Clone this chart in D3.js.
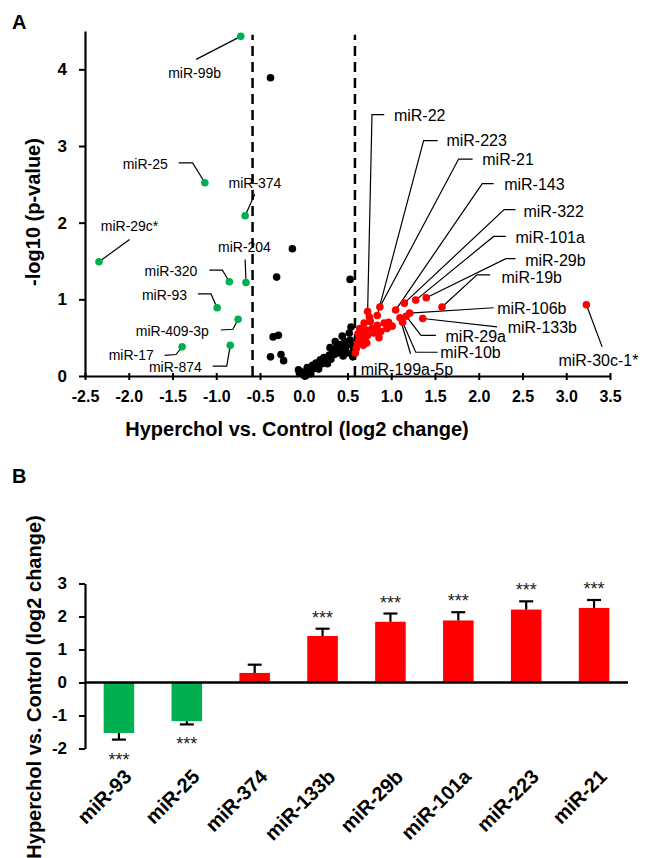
<!DOCTYPE html>
<html lang="en">
<head>
<meta charset="UTF-8">
<title>miRNA volcano and bar chart</title>
<script src="https://d3js.org/d3.v7.min.js"></script>
<style>
  body { margin: 0; background: #fff; }
  svg { font-family: "Liberation Sans", Arial, sans-serif; }
  .axis text { font-weight: bold; fill: #000; }
  .axis path, .axis line { stroke: #000; }
</style>
</head>
<body>
<script>
// ---------- panel A: volcano (log2 change vs -log10 p) ----------
const downNames = ["miR-99b", "miR-25", "miR-374", "miR-29c*", "miR-320", "miR-204", "miR-93", "miR-409-3p", "miR-17", "miR-874"];
const downX = [-0.72, -1.13, -0.67, -2.34, -0.85, -0.66, -0.99, -0.75, -1.39, -0.84];
const downY = [4.43, 2.52, 2.09, 1.49, 1.23, 1.22, 0.89, 0.74, 0.38, 0.40];

const upNames = ["miR-22", "miR-223", "miR-21", "miR-143", "miR-322", "miR-101a", "miR-29b", "miR-19b",
                 "miR-106b", "miR-133b", "miR-29a", "miR-10b", "miR-199a-5p", "miR-30c-1*"];
const upX = [0.73, 0.84, 0.87, 1.05, 1.15, 1.28, 1.40, 1.58, 1.21, 1.36, 1.17, 1.13, 1.10, 3.23];
const upY = [0.84, 0.79, 0.90, 0.86, 0.95, 0.99, 1.02, 0.90, 0.82, 0.75, 0.78, 0.70, 0.76, 0.93];

// unlabelled up-regulated
const upOtherX = [0.69, 0.76, 0.84, 0.92, 0.95, 0.88, 0.80, 0.73, 0.67, 0.63, 0.61, 0.71, 0.65, 0.78, 0.75, 1.01, 0.60, 0.62, 0.68, 0.70, 0.86, 0.97, 0.64, 0.59, 0.66, 0.72, 0.82];
const upOtherY = [0.69, 0.71, 0.66, 0.69, 0.62, 0.58, 0.56, 0.53, 0.51, 0.47, 0.42, 0.60, 0.58, 0.62, 0.77, 0.65, 0.36, 0.55, 0.40, 0.48, 0.50, 0.70, 0.62, 0.30, 0.45, 0.43, 0.60];

// not changed
const nsX = [-0.38, -0.13, -0.31, -0.35, -0.29, -0.38, -0.26, -0.23, 0.53,
  -0.06, -0.05, 0.00, -0.01, 0.02, 0.04, 0.07, 0.10, 0.12, 0.14, 0.16, 0.19, 0.21, 0.23, 0.26, 0.29, 0.31,
  0.33, 0.35, 0.37, 0.39, 0.41, 0.43, 0.45, 0.47, 0.48, 0.50, 0.52, 0.53, 0.54, 0.55, 0.56, 0.57,
  0.08, 0.17, 0.27, 0.44, 0.36, 0.30];
const nsY = [3.89, 1.66, 1.29, 0.51, 0.53, 0.25, 0.28, 0.20, 1.26,
  0.08, 0.04, 0.01, 0.05, 0.00, 0.11, 0.06, 0.14, 0.10, 0.17, 0.12, 0.21, 0.16, 0.24, 0.20, 0.27, 0.22,
  0.32, 0.28, 0.36, 0.30, 0.41, 0.34, 0.26, 0.45, 0.38, 0.30, 0.56, 0.47, 0.64, 0.40, 0.25, 0.33,
  0.03, 0.09, 0.16, 0.52, 0.45, 0.37];

const cutoff = 0.585; // log2(1.5)
const xTicksA = d3.range(-2.5, 3.51, 0.5);
const yTicksA = [0, 1, 2, 3, 4];

// label placement in data units: name, text start x, text middle y, leader bends
const labelLayout = [
  ["miR-99b", -1.55, 3.95, [[-1.23, 4.13]]],
  ["miR-25", -2.07, 2.77, [[-1.43, 2.78], [-1.27, 2.78]]],
  ["miR-374", -0.86, 2.52, [[-0.56, 2.37]]],
  ["miR-29c*", -2.32, 1.95, [[-1.99, 1.78]]],
  ["miR-204", -0.98, 1.68, [[-0.67, 1.52]]],
  ["miR-320", -1.82, 1.37, [[-1.08, 1.38], [-0.93, 1.38]]],
  ["miR-93", -1.85, 1.06, [[-1.21, 1.07], [-1.06, 1.07]]],
  ["miR-409-3p", -1.92, 0.59, [[-0.95, 0.60], [-0.81, 0.61]]],
  ["miR-17", -2.23, 0.27, [[-1.59, 0.27], [-1.46, 0.28]]],
  ["miR-874", -1.77, 0.12, [[-1.04, 0.13], [-0.88, 0.13]]],
  ["miR-22", 1.03, 3.40, [[0.92, 3.41], [0.78, 3.41]]],
  ["miR-223", 1.63, 3.07, [[1.53, 3.07], [1.37, 3.07]]],
  ["miR-21", 2.04, 2.82, [[1.93, 2.83], [1.77, 2.83]]],
  ["miR-143", 2.29, 2.50, [[2.17, 2.51], [2.04, 2.51]]],
  ["miR-322", 2.51, 2.15, [[2.42, 2.17], [2.29, 2.17]]],
  ["miR-101a", 2.42, 1.81, [[2.31, 1.82], [2.17, 1.82]]],
  ["miR-29b", 2.53, 1.51, [[2.42, 1.53], [2.31, 1.53]]],
  ["miR-19b", 2.26, 1.29, [[2.13, 1.32], [1.98, 1.32]]],
  ["miR-106b", 2.21, 0.88, [[2.17, 0.89]]],
  ["miR-133b", 2.33, 0.63, [[2.21, 0.64]]],
  ["miR-29a", 1.62, 0.52, [[1.51, 0.53], [1.34, 0.53]]],
  ["miR-10b", 1.56, 0.31, [[1.53, 0.31], [1.28, 0.31]]],
  ["miR-199a-5p", 0.65, 0.09, [[1.22, 0.29]]],
  ["miR-30c-1*", 2.91, 0.21, [[3.41, 0.38]]]
];

// ---------- panel B: qPCR bars ----------
const barNames = ["miR-93", "miR-25", "miR-374", "miR-133b", "miR-29b", "miR-101a", "miR-223", "miR-21"];
const barValues = [-1.53, -1.17, 0.29, 1.41, 1.84, 1.88, 2.21, 2.26];
const barErrors = [0.20, 0.10, 0.25, 0.22, 0.25, 0.25, 0.25, 0.24];
const barSig = ["***", "***", "", "***", "***", "***", "***", "***"];
const yTicksB = [-2, -1, 0, 1, 2, 3];

const GREEN = "#00b050", RED = "#ff0000";

const svg = d3.select("body").append("svg")
    .attr("width", 646)
    .attr("height", 858);

// ================= panel A =================
const xA = d3.scaleLinear().domain([-2.5, 3.5]).range([85, 610]);
const yA = d3.scaleLinear().domain([0, 4.5]).range([376, 31]);

svg.append("text").attr("x", 12).attr("y", 29)
    .attr("font-size", 20).attr("font-weight", "bold").text("A");

// dashed fold-change cut-offs
svg.selectAll("line.cut").data([-cutoff, cutoff]).enter().append("line")
    .attr("class", "cut")
    .attr("x1", d => xA(d)).attr("x2", d => xA(d))
    .attr("y1", yA(0)).attr("y2", yA(4.45))
    .attr("stroke", "#000").attr("stroke-width", 2.5)
    .attr("stroke-dasharray", "10,6");

const gxA = svg.append("g").attr("class", "axis")
    .attr("transform", `translate(0,${yA(0)})`)
    .call(d3.axisBottom(xA).tickValues(xTicksA).tickFormat(d => d.toFixed(1))
        .tickSize(4).tickSizeOuter(0).tickPadding(11));
gxA.select(".domain").attr("stroke-width", 2.2);
gxA.selectAll(".tick line").attr("y1", -3).attr("stroke-width", 2);
gxA.selectAll(".tick text").attr("font-size", 16);

const gyA = svg.append("g").attr("class", "axis")
    .attr("transform", `translate(${xA(-2.5)},0)`)
    .call(d3.axisLeft(yA).tickValues(yTicksA).tickFormat(d => String(d))
        .tickSize(6).tickSizeOuter(0).tickPadding(12));
gyA.select(".domain").attr("stroke-width", 2.2);
gyA.selectAll(".tick line").attr("stroke-width", 2);
gyA.selectAll(".tick text").attr("font-size", 17);

svg.append("text")
    .attr("x", 297).attr("y", 436)
    .attr("text-anchor", "middle").attr("font-size", 20).attr("font-weight", "bold")
    .text("Hyperchol vs. Control (log2 change)");

svg.append("text")
    .attr("transform", "translate(33,212) rotate(-90)")
    .attr("dy", "0.35em")
    .attr("text-anchor", "middle").attr("font-size", 20).attr("font-weight", "bold")
    .text("-log10 (p-value)");

// leaders + labels
const pointOf = {};
downNames.forEach((n, i) => pointOf[n] = [downX[i], downY[i]]);
upNames.forEach((n, i) => pointOf[n] = [upX[i], upY[i]]);

const leader = d3.line().x(d => xA(d[0])).y(d => yA(d[1]));
svg.append("g").selectAll("path").data(labelLayout).enter().append("path")
    .attr("d", d => leader(d[3].concat([pointOf[d[0]]])))
    .attr("fill", "none").attr("stroke", "#000").attr("stroke-width", 1.2);

// points
const nsPts = nsX.map((x, i) => [x, nsY[i]]);
const upPts = upX.map((x, i) => [x, upY[i]]).concat(upOtherX.map((x, i) => [x, upOtherY[i]]));
const downPts = downX.map((x, i) => [x, downY[i]]);

function dots(data, color) {
  svg.append("g").selectAll("circle").data(data).enter().append("circle")
      .attr("cx", d => xA(d[0])).attr("cy", d => yA(d[1]))
      .attr("r", 3.8).attr("fill", color);
}
dots(nsPts, "#000");
dots(downPts, GREEN);
dots(upPts, RED);

svg.append("g").selectAll("text").data(labelLayout).enter().append("text")
    .attr("x", d => xA(d[1])).attr("y", d => yA(d[2]))
    .attr("dy", "0.35em")
    .attr("font-size", d => d[1] < 0 ? 14 : 16)
    .text(d => d[0]);

// ================= panel B =================
const yB = d3.scaleLinear().domain([-2, 3]).range([748.5, 583.5]);
const xB = d3.scaleBand().domain(barNames).range([85, 628])
    .paddingInner(0.55).paddingOuter(0.275);

svg.append("text").attr("x", 12).attr("y", 483)
    .attr("font-size", 20).attr("font-weight", "bold").text("B");

const bars = barNames.map((n, i) => ({name: n, v: barValues[i], e: barErrors[i], sig: barSig[i]}));

svg.append("g").selectAll("rect").data(bars).enter().append("rect")
    .attr("x", d => xB(d.name))
    .attr("width", xB.bandwidth())
    .attr("y", d => yB(Math.max(0, d.v)))
    .attr("height", d => Math.abs(yB(d.v) - yB(0)))
    .attr("fill", d => d.v < 0 ? GREEN : RED);

// one-sided error bars
const err = svg.append("g").attr("stroke", "#000").attr("stroke-width", 2.2);
bars.forEach(d => {
  const cx = xB(d.name) + xB.bandwidth() / 2;
  const end = d.v < 0 ? d.v - d.e : d.v + d.e;
  err.append("line").attr("x1", cx).attr("x2", cx).attr("y1", yB(d.v)).attr("y2", yB(end));
  err.append("line").attr("x1", cx - 7).attr("x2", cx + 7).attr("y1", yB(end)).attr("y2", yB(end));
});

svg.append("g").selectAll("text").data(bars.filter(d => d.sig)).enter().append("text")
    .attr("x", d => xB(d.name) + xB.bandwidth() / 2)
    .attr("y", d => d.v < 0 ? yB(d.v - d.e) + 26 : yB(d.v + d.e) - 5)
    .attr("text-anchor", "middle").attr("font-size", 18).attr("fill", "#222")
    .text(d => d.sig);

svg.append("line")
    .attr("x1", 85).attr("x2", 628).attr("y1", yB(0)).attr("y2", yB(0))
    .attr("stroke", "#000").attr("stroke-width", 2.5);

const gyB = svg.append("g").attr("class", "axis")
    .attr("transform", "translate(85,0)")
    .call(d3.axisLeft(yB).tickValues(yTicksB).tickFormat(d => String(d))
        .tickSize(6).tickSizeOuter(0).tickPadding(12));
gyB.select(".domain").attr("stroke-width", 2.2);
gyB.selectAll(".tick line").attr("stroke-width", 2);
gyB.selectAll(".tick text").attr("font-size", 17);

svg.append("g").selectAll("text").data(barNames).enter().append("text")
    .attr("transform", d => `translate(${xB(d) + xB.bandwidth() / 2 + 14},778) rotate(-45)`)
    .attr("text-anchor", "end").attr("font-size", 20).attr("font-weight", "bold")
    .text(d => d);

svg.append("text")
    .attr("transform", "translate(34,687) rotate(-90)")
    .attr("dy", "0.35em")
    .attr("text-anchor", "middle").attr("font-size", 20).attr("font-weight", "bold")
    .text("Hyperchol vs. Control (log2 change)");
</script>
</body>
</html>
